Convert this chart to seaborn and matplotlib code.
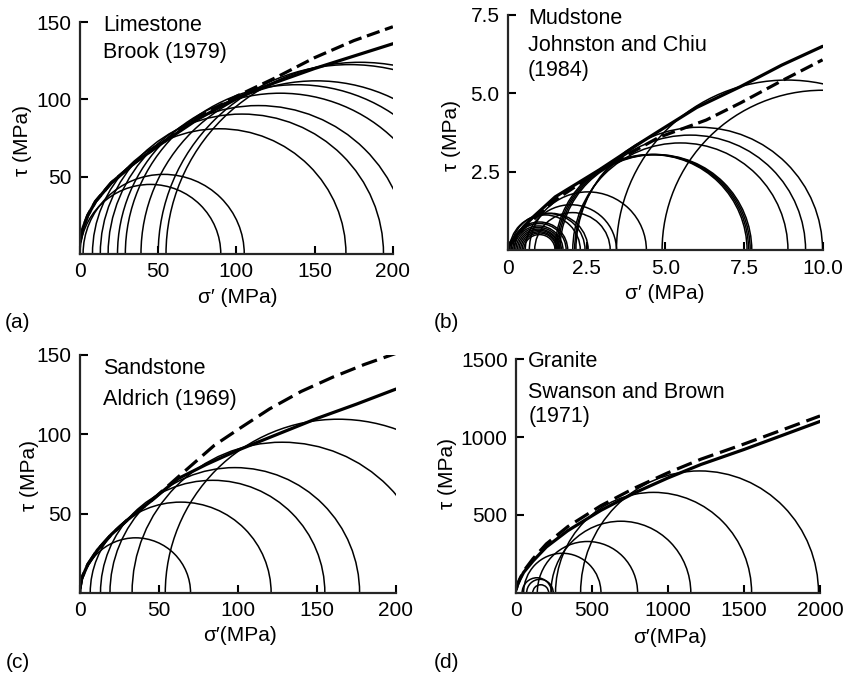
import numpy as np
import pandas as pd
import seaborn as sns
from matplotlib import pyplot as plt
from matplotlib.patches import Arc

# Mohr circles: (sigma3, sigma1) for each test
limestone_s3 = [0, 2, 8, 13, 18, 24, 29, 39, 50, 55]
limestone_s1 = [90, 105, 170, 194, 210, 232, 248, 263, 295, 303]
limestone_solid_sig = [0, 2, 5, 10, 20, 35, 50, 75, 100, 125, 150, 175, 200]
limestone_solid_tau = [8, 17, 25, 34, 46, 59, 70, 87, 101, 111, 120, 128, 136]
limestone_dash_sig = [0, 2, 5, 10, 20, 35, 50, 75, 100, 125, 150, 175, 200]
limestone_dash_tau = [8, 17, 25, 34, 46, 59, 70, 88, 102, 114, 127, 138, 147]

mudstone_s3 = [0.1, 0.15, 0.2, 0.25, 0.3, 0.35, 0.4, 0.45, 0.5, 0.05, 0.1, 0.2,
               0.55, 0.85, 0.68, 1.5, 1.55, 1.6, 1.65, 2.06, 2.12, 2.16, 3.45, 4.9]
mudstone_s1 = [1.9, 1.85, 1.75, 1.7, 1.65, 1.62, 1.58, 1.55, 1.5, 2.3, 2.45, 2.55,
               3.45, 3.25, 4.4, 7.6, 7.65, 7.7, 7.75, 8.9, 9.46, 10.0, 14.3, 15.1]
mudstone_solid_sig = [0, 0.25, 0.5, 0.8, 1.5, 2.9, 4.2, 4.8, 6.0, 7.4, 8.7, 10.0]
mudstone_solid_tau = [0.15, 0.45, 0.75, 1.06, 1.7, 2.56, 3.42, 3.8, 4.55, 5.22, 5.9, 6.5]
mudstone_dash_sig = [0, 0.5, 1.5, 3.0, 4.8, 6.3, 7.4, 8.7, 10.0]
mudstone_dash_tau = [0.1, 0.7, 1.6, 2.6, 3.6, 4.15, 4.7, 5.4, 6.07]

sandstone_s3 = [0.5, 6.5, 13, 19, 33, 54]
sandstone_s1 = [70, 121, 155, 177, 223, 273]
sandstone_solid_sig = [0, 1, 5, 11, 20, 30, 45, 62, 80, 100, 125, 150, 175, 200]
sandstone_solid_tau = [3, 9, 18, 27, 37, 46, 58, 72, 81, 90, 100, 110, 119, 128.5]
sandstone_dash_sig = [0, 1, 5, 11, 20, 30, 45, 62, 85, 100, 120, 140, 160, 180, 200]
sandstone_dash_tau = [3, 9, 18, 27, 37, 46, 58, 73, 93, 103, 116, 127, 136, 144, 151]

granite_s3 = [40, 70, 110, 50, 140, 230, 260, 425]
granite_s1 = [235, 245, 215, 559, 800, 1150, 1550, 1990]
granite_solid_sig = [0, 10, 25, 50, 112, 200, 340, 559, 778, 998, 1217, 1500, 1750, 2000]
granite_solid_tau = [20, 52, 85, 132, 205, 295, 399, 530, 641, 737, 824, 920, 1010, 1100]
granite_dash_sig = [0, 10, 25, 50, 112, 200, 340, 559, 778, 998, 1217, 1500, 1750, 2000]
granite_dash_tau = [20, 55, 90, 140, 220, 315, 425, 560, 672, 770, 858, 955, 1045, 1135]

sns.set_theme(style="ticks")
plt.rcParams["font.family"] = ["Liberation Sans", "DejaVu Sans"]
plt.rcParams["axes.linewidth"] = 1.6


def envelope_frame(solid_sig, solid_tau, dash_sig, dash_tau):
    solid = pd.DataFrame({"sigma": solid_sig, "tau": solid_tau, "curve": "solid"})
    dashed = pd.DataFrame({"sigma": dash_sig, "tau": dash_tau, "curve": "dashed"})
    return pd.concat((solid, dashed), ignore_index=True)


def draw_panel(ax, s3, s1, env, xmax, ymax, xticks, xlabels, yticks, ylabels, dash):
    for lo, hi in zip(s3, s1):
        c = (lo + hi) / 2
        d = hi - lo
        ax.add_patch(Arc((c, 0), d, d, theta1=0, theta2=180,
                         color="black", lw=1.1))
    sns.lineplot(data=env, x="sigma", y="tau", style="curve",
                 dashes={"solid": "", "dashed": dash}, color="black",
                 linewidth=2.3, legend=False, estimator=None, sort=False, ax=ax)
    ax.set_xlim(0, xmax)
    ax.set_ylim(0, ymax)
    ax.set_xticks(xticks, xlabels)
    ax.set_yticks(yticks, ylabels)
    ax.tick_params(direction="in", length=6, width=1.5, labelsize=15, pad=6,
                   colors="black")
    ax.set_xlabel("")
    ax.set_ylabel("")
    sns.despine(ax=ax)


fig = plt.figure(figsize=(8.48, 6.8), dpi=100)
ax_a = fig.add_axes([0.0943, 0.6265, 0.369, 0.341])
ax_b = fig.add_axes([0.599, 0.632, 0.371, 0.346])
ax_c = fig.add_axes([0.0943, 0.128, 0.3726, 0.35])
ax_d = fig.add_axes([0.6085, 0.128, 0.3585, 0.344])

draw_panel(ax_a, limestone_s3, limestone_s1,
           envelope_frame(limestone_solid_sig, limestone_solid_tau,
                          limestone_dash_sig, limestone_dash_tau),
           200, 150, [0, 50, 100, 150, 200], ["0", "50", "100", "150", "200"],
           [50, 100, 150], ["50", "100", "150"], (4.2, 1.8))
draw_panel(ax_b, mudstone_s3, mudstone_s1,
           envelope_frame(mudstone_solid_sig, mudstone_solid_tau,
                          mudstone_dash_sig, mudstone_dash_tau),
           10, 7.5, [0, 2.5, 5, 7.5, 10], ["0", "2.5", "5.0", "7.5", "10.0"],
           [2.5, 5, 7.5], ["2.5", "5.0", "7.5"], (4.2, 1.8))
draw_panel(ax_c, sandstone_s3, sandstone_s1,
           envelope_frame(sandstone_solid_sig, sandstone_solid_tau,
                          sandstone_dash_sig, sandstone_dash_tau),
           200, 150, [0, 50, 100, 150, 200], ["0", "50", "100", "150", "200"],
           [50, 100, 150], ["50", "100", "150"], (5.0, 2.2))
draw_panel(ax_d, granite_s3, granite_s1,
           envelope_frame(granite_solid_sig, granite_solid_tau,
                          granite_dash_sig, granite_dash_tau),
           2000, 1500, [0, 500, 1000, 1500, 2000],
           ["0", "500", "1000", "1500", "2000"],
           [500, 1000, 1500], ["500", "1000", "1500"], (5.0, 2.2))

txt = dict(fontsize=15.5, color="black", va="center", ha="left")
ax_a.text(0.073, 0.987, "Limestone", transform=ax_a.transAxes, **txt)
ax_a.text(0.073, 0.871, "Brook (1979)", transform=ax_a.transAxes, **txt)
ax_b.text(0.063, 0.987, "Mudstone", transform=ax_b.transAxes, **txt)
ax_b.text(0.063, 0.872, "Johnston and Chiu", transform=ax_b.transAxes, **txt)
ax_b.text(0.063, 0.766, "(1984)", transform=ax_b.transAxes, **txt)
ax_c.text(0.073, 0.945, "Sandstone", transform=ax_c.transAxes, **txt)
ax_c.text(0.073, 0.811, "Aldrich (1969)", transform=ax_c.transAxes, **txt)
ax_d.text(0.04, 0.99, "Granite", transform=ax_d.transAxes, **txt)
ax_d.text(0.04, 0.859, "Swanson and Brown", transform=ax_d.transAxes, **txt)
ax_d.text(0.04, 0.756, "(1971)", transform=ax_d.transAxes, **txt)

lab = dict(fontsize=15, color="black", ha="center", va="center")
fig.text(0.28, 0.563, "σ′ (MPa)", **lab)
fig.text(0.784, 0.569, "σ′ (MPa)", **lab)
fig.text(0.283, 0.065, "σ′(MPa)", **lab)
fig.text(0.79, 0.062, "σ′(MPa)", **lab)
fig.text(0.026, 0.794, "τ (MPa)", rotation=90, **lab)
fig.text(0.533, 0.801, "τ (MPa)", rotation=90, **lab)
fig.text(0.035, 0.301, "τ (MPa)", rotation=90, **lab)
fig.text(0.528, 0.304, "τ (MPa)", rotation=90, **lab)

for x, y, s in [(0.021, 0.525, "(a)"), (0.527, 0.525, "(b)"),
                (0.021, 0.025, "(c)"), (0.527, 0.025, "(d)")]:
    fig.text(x, y, s, **lab)

fig.savefig("out.png", dpi=100, facecolor="white")
